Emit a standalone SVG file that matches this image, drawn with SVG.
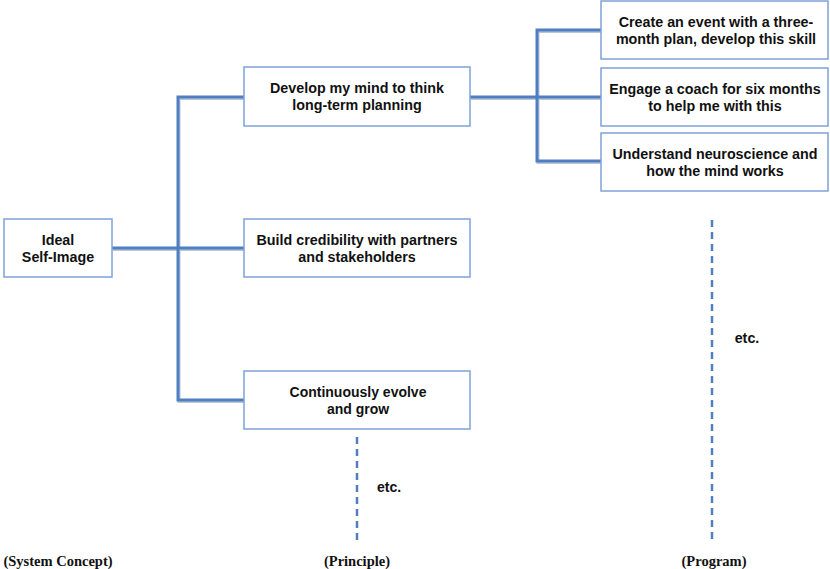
<svg xmlns="http://www.w3.org/2000/svg" width="830" height="569" viewBox="0 0 830 569">
  <style>
    .box { fill: #ffffff; stroke: #7fa3d8; stroke-width: 1.5; }
    .lbl { font-family: "Liberation Sans", Arial, sans-serif; font-weight: bold; font-size: 14.3px; fill: #111; text-anchor: middle; }
    .narrow { font-size: 14px; }
    .cap { font-family: "Liberation Serif", "Times New Roman", serif; font-weight: bold; font-size: 14.5px; fill: #111; text-anchor: middle; }
    .link { fill: none; stroke: #4f7fc0; stroke-width: 3; stroke-linejoin: miter; }
    .shadow { fill: none; stroke: #b8c6d8; stroke-width: 3; }
    .dash { fill: none; stroke: #4f7fc0; stroke-width: 2.5; stroke-dasharray: 7 5; }
  </style>

  <g id="connectors">
    <g transform="translate(1,1.5)">
      <path class="shadow" d="M112 248 H244 M178 97 V400 H244 M178 97 H244 M470 97 H601 M537 30 V161 H601 M537 30 H601"/>
    </g>
    <path class="link" d="M112 248 H244"/>
    <path class="link" d="M244 97 H178 V400 H244"/>
    <path class="link" d="M470 97 H601"/>
    <path class="link" d="M601 30 H537 V161 H601"/>
    <path class="dash" d="M357 437 V542"/>
    <path class="dash" d="M712 220 V542"/>
  </g>

  <g id="ideal">
    <rect class="box" x="4" y="219" width="108" height="58"/>
    <text class="lbl" x="58" y="245">Ideal</text>
    <text class="lbl" x="58" y="262">Self-Image</text>
  </g>

  <g id="develop">
    <rect class="box" x="244" y="67" width="226" height="59"/>
    <text class="lbl" x="357" y="93">Develop my mind to think</text>
    <text class="lbl" x="357" y="110">long-term planning</text>
  </g>

  <g id="credibility">
    <rect class="box" x="244" y="219" width="226" height="58"/>
    <text class="lbl" x="357" y="245">Build credibility with partners</text>
    <text class="lbl" x="357" y="262">and stakeholders</text>
  </g>

  <g id="evolve">
    <rect class="box" x="244" y="371" width="226" height="58"/>
    <text class="lbl narrow" x="358" y="397">Continuously evolve</text>
    <text class="lbl narrow" x="358" y="414">and grow</text>
  </g>

  <g id="event">
    <rect class="box" x="601" y="1" width="227" height="58"/>
    <text class="lbl" x="716" y="27">Create an event with a three-</text>
    <text class="lbl" x="716" y="44">month plan, develop this skill</text>
  </g>

  <g id="coach">
    <rect class="box" x="601" y="68" width="227" height="58"/>
    <text class="lbl" x="715" y="94">Engage a coach for six months</text>
    <text class="lbl" x="715" y="111">to help me with this</text>
  </g>

  <g id="neuroscience">
    <rect class="box" x="601" y="133" width="227" height="58"/>
    <text class="lbl" x="715" y="159">Understand neuroscience and</text>
    <text class="lbl" x="715" y="176">how the mind works</text>
  </g>

  <g id="etc-principle">
    <text class="lbl narrow" x="389" y="492">etc.</text>
  </g>
  <g id="etc-program">
    <text class="lbl" x="747" y="343">etc.</text>
  </g>

  <g id="captions">
    <text class="cap" x="58" y="566">(System Concept)</text>
    <text class="cap" x="357" y="566">(Principle)</text>
    <text class="cap" x="714" y="566">(Program)</text>
  </g>
</svg>
